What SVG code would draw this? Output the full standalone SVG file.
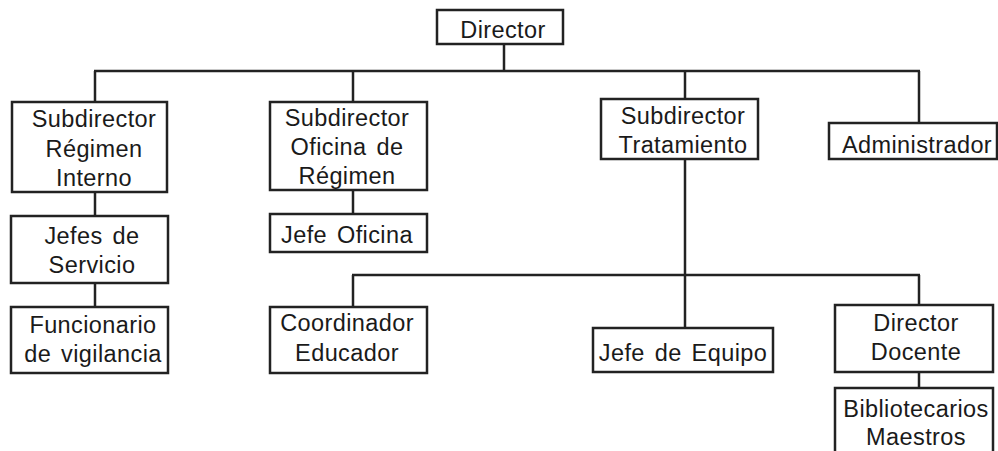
<svg xmlns="http://www.w3.org/2000/svg" width="998" height="451" viewBox="0 0 998 451">
<style>
rect{fill:#fff;stroke:#222;stroke-width:2.5}
.c line{stroke:#222;stroke-width:2.5}
text{font-family:"Liberation Sans",Arial,sans-serif;font-size:23.5px;letter-spacing:0.4px;word-spacing:3px;fill:#1a1a1a;text-anchor:middle}
</style>
<rect x="0" y="0" width="998" height="451" style="fill:#fff;stroke:none"/>
<g class="c" id="connectors">
<line x1="504" y1="44" x2="504" y2="71"/>
<line x1="94" y1="71" x2="920" y2="71"/>
<line x1="95" y1="71" x2="95" y2="102"/>
<line x1="353" y1="71" x2="353" y2="102"/>
<line x1="685" y1="71" x2="685" y2="99"/>
<line x1="919" y1="71" x2="919" y2="123"/>
<line x1="95" y1="192" x2="95" y2="216"/>
<line x1="95" y1="283" x2="95" y2="307"/>
<line x1="353" y1="190" x2="353" y2="214"/>
<line x1="685" y1="159" x2="685" y2="328"/>
<line x1="352" y1="275" x2="920" y2="275"/>
<line x1="353" y1="275" x2="353" y2="307"/>
<line x1="919" y1="275" x2="919" y2="305"/>
<line x1="919" y1="372" x2="919" y2="388"/>
</g>
<g id="director"><rect x="437" y="10" width="126" height="34"/><text x="503" y="38">Director</text></g>
<g id="sub-regimen"><rect x="12" y="102" width="155" height="90"/><text x="94" y="127">Subdirector</text><text x="94" y="157">Régimen</text><text x="94" y="186">Interno</text></g>
<g id="sub-oficina"><rect x="270" y="102" width="157" height="88"/><text x="347" y="126">Subdirector</text><text x="347" y="155">Oficina de</text><text x="347" y="184">Régimen</text></g>
<g id="sub-tratamiento"><rect x="601" y="99" width="157" height="60"/><text x="683" y="124">Subdirector</text><text x="683" y="153">Tratamiento</text></g>
<g id="administrador"><rect x="829" y="123" width="168" height="36"/><text x="917" y="153">Administrador</text></g>
<g id="jefes-servicio"><rect x="11" y="216" width="157" height="67"/><text x="92" y="244">Jefes de</text><text x="92" y="273">Servicio</text></g>
<g id="funcionario"><rect x="11" y="307" width="157" height="66"/><text x="93" y="333">Funcionario</text><text x="93" y="362">de vigilancia</text></g>
<g id="jefe-oficina"><rect x="270" y="214" width="157" height="38"/><text x="347" y="243">Jefe Oficina</text></g>
<g id="coordinador"><rect x="270" y="307" width="157" height="66"/><text x="347" y="331">Coordinador</text><text x="347" y="361">Educador</text></g>
<g id="jefe-equipo"><rect x="593" y="328" width="180" height="44"/><text x="683" y="361">Jefe de Equipo</text></g>
<g id="director-docente"><rect x="835" y="305" width="158" height="67"/><text x="916" y="331">Director</text><text x="916" y="360">Docente</text></g>
<g id="bibliotecarios"><rect x="835" y="388" width="158" height="70"/><text x="916" y="417">Bibliotecarios</text><text x="916" y="445">Maestros</text></g>
</svg>
